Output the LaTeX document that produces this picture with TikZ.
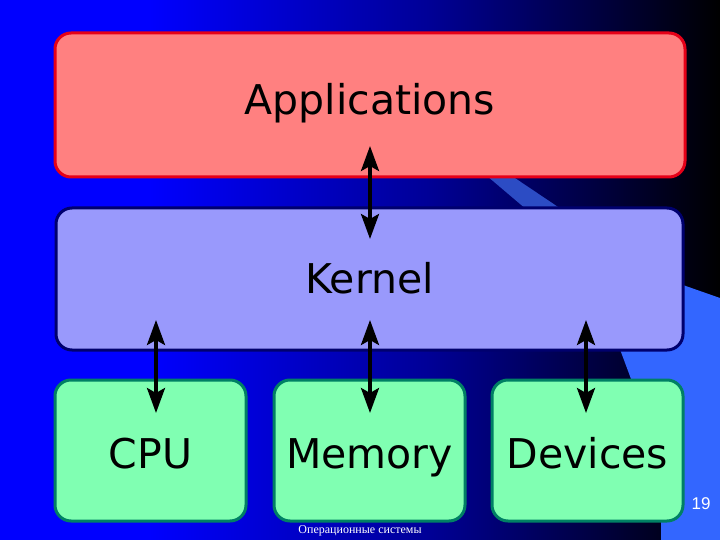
\documentclass[tikz,border=0pt]{standalone}
\usepackage{fontspec}
\usepackage{xcolor}
\usepackage{tikz}
\usetikzlibrary{arrows.meta,calc}

\newfontfamily\boxfont{DejaVu Sans}
\newfontfamily\footfont{Liberation Serif}
\newfontfamily\numfont{Liberation Sans}

\definecolor{bgmid}{RGB}{0,0,150}
\definecolor{slidelight}{RGB}{51,102,255}
\definecolor{slidestripe}{RGB}{44,76,196}
\definecolor{appfill}{RGB}{255,128,128}
\definecolor{appline}{RGB}{230,0,24}
\definecolor{kernfill}{RGB}{153,153,252}
\definecolor{kernline}{RGB}{0,0,110}
\definecolor{unitfill}{RGB}{128,255,178}
\definecolor{unitline}{RGB}{0,128,100}

\begin{document}
\begin{tikzpicture}[x=1pt, y=-1pt,
    layer/.style={draw, line width=3pt, rounded corners=16pt,
      font=\boxfont\fontsize{41}{41}\selectfont,
      text height=30pt, text depth=0pt, inner sep=0pt},
    appbox/.style={layer, fill=appfill, draw=appline,
      minimum width=630pt, minimum height=144pt, text depth=10pt},
    kernbox/.style={layer, fill=kernfill, draw=kernline,
      minimum width=627pt, minimum height=142pt, text depth=1pt},
    unitbox/.style={layer, fill=unitfill, draw=unitline,
      minimum width=191pt, minimum height=141pt, text height=36pt},
    link/.style={line width=3.5pt,
      {Stealth[length=25pt,width=18pt,inset=5pt]}-{Stealth[length=25pt,width=18pt,inset=5pt]}}]
  \useasboundingbox (0,0) rectangle (720,540);

  % Slide background
  \fill[blue] (0,0) rectangle (150,540);
  \shade[left color=blue, right color=bgmid] (149,0) rectangle (430,540);
  \shade[left color=bgmid, right color=black] (429,0) rectangle (720,540);
  \fill[slidestripe] (480,170) -- (503,170) -- (570,215) -- (533,215) -- cycle;
  \fill[slidelight] (583,250) -- (720,298) -- (720,540) -- (691,540) -- cycle;
  \fill[slidelight] (661,470) rectangle (720,540);

  % Layers
  \node[appbox] (app) at (370,105) {Applications};
  \node[kernbox] (kernel) at (369.5,279) {Kernel};
  \node[unitbox] (cpu) at (150.5,450.5) {CPU};
  \node[unitbox] (mem) at (369.5,450.5) {Memory};
  \node[unitbox] (dev) at (587.5,450.5) {Devices};

  % Arrow ends
  \coordinate (app-end) at (370,146);
  \coordinate (kernel-end) at (370,239);
  \foreach \name/\x in {cpu/156, mem/370, dev/586} {
    \coordinate (\name-up) at (\x,320);
    \coordinate (\name-down) at (\x,413);
  }

  % Arrows
  \draw[link] (app-end) -- (kernel-end);
  \foreach \name in {cpu, mem, dev} {
    \draw[link] (\name-up) -- (\name-down);
  }

  % Footer
  \node[white, font=\footfont\fontsize{12}{12}\selectfont] (foot) at (360,531)
    {Операционные системы};
  \node[white, font=\numfont\fontsize{17}{17}\selectfont] (page) at (701,504) {19};
\end{tikzpicture}
\end{document}
